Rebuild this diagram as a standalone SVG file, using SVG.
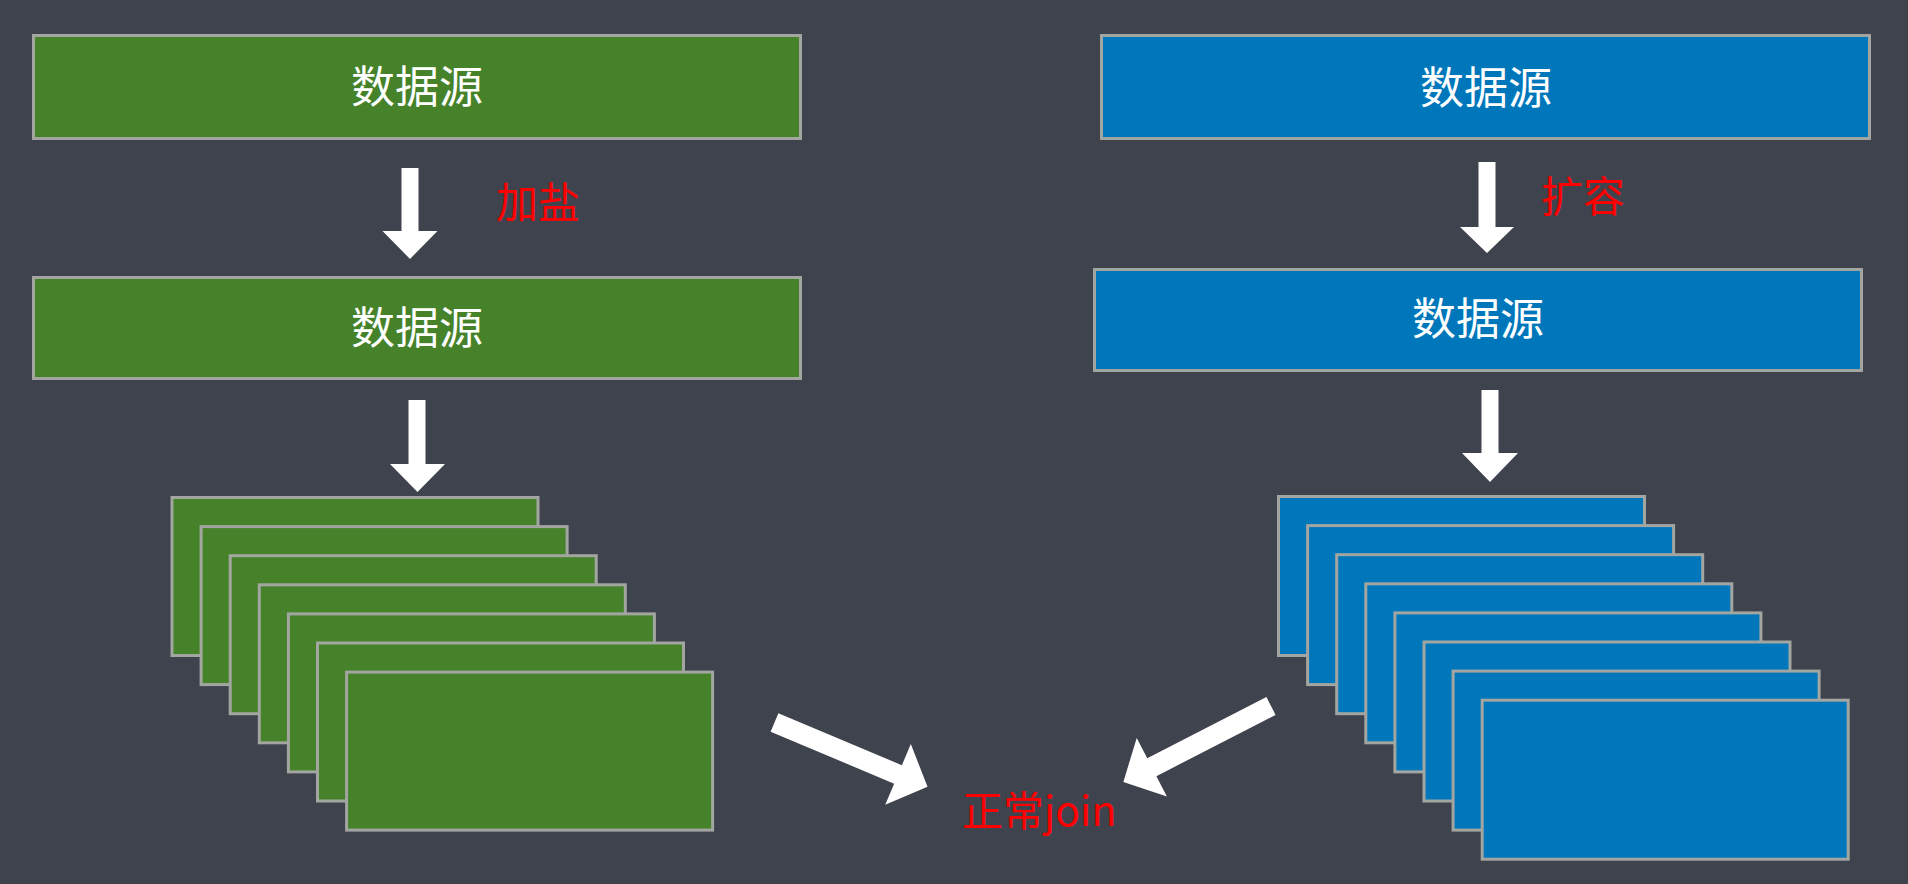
<svg xmlns="http://www.w3.org/2000/svg" width="1908" height="884" viewBox="0 0 1908 884">
<style>
.g{fill:#45822a;stroke:#a3a6a0;stroke-width:3}
.b{fill:#0077bb;stroke:#a3a6a0;stroke-width:3}
.t{fill:#ffffff;font-family:"Noto Sans CJK SC",sans-serif;font-size:44px;text-anchor:middle}
.r{fill:#ff0000;font-family:"Noto Sans CJK SC",sans-serif;font-size:42px}
.a{fill:#ffffff}
</style>
<rect width="1908" height="884" fill="#3f434e"/>
<g id="green-src1"><rect class="g" x="33.5" y="35.5" width="767" height="103"/><text class="t" x="417" y="103">数据源</text></g>
<g id="green-src2"><rect class="g" x="33.5" y="277.5" width="767" height="101"/><text class="t" x="417" y="344">数据源</text></g>
<g id="blue-src1"><rect class="b" x="1101.5" y="35.5" width="768" height="103"/><text class="t" x="1486" y="104">数据源</text></g>
<g id="blue-src2"><rect class="b" x="1094.5" y="269.5" width="767" height="101"/><text class="t" x="1478" y="335">数据源</text></g>
<g id="green-stack">
<rect class="g" x="172" y="497.5" width="366" height="158"/>
<rect class="g" x="201.1" y="526.6" width="366" height="158"/>
<rect class="g" x="230.2" y="555.7" width="366" height="158"/>
<rect class="g" x="259.3" y="584.8" width="366" height="158"/>
<rect class="g" x="288.4" y="613.9" width="366" height="158"/>
<rect class="g" x="317.5" y="643" width="366" height="158"/>
<rect class="g" x="346.6" y="672.1" width="366" height="158"/>
</g>
<g id="blue-stack">
<rect class="b" x="1278.5" y="496.5" width="366" height="159"/>
<rect class="b" x="1307.6" y="525.6" width="366" height="159"/>
<rect class="b" x="1336.7" y="554.7" width="366" height="159"/>
<rect class="b" x="1365.8" y="583.8" width="366" height="159"/>
<rect class="b" x="1394.9" y="612.9" width="366" height="159"/>
<rect class="b" x="1424" y="642" width="366" height="159"/>
<rect class="b" x="1453.1" y="671.1" width="366" height="159"/>
<rect class="b" x="1482.2" y="700.2" width="366" height="159"/>
</g>
<g id="connectors">
<polygon class="a" points="401.5,168 418.5,168 418.5,231 437.5,231 410,259 382.5,231 401.5,231"/>
<polygon class="a" points="408.5,400 425.5,400 425.5,464 445,464 417.5,492 390,464 408.5,464"/>
<polygon class="a" points="1478.5,162 1495.5,162 1495.5,227 1514,227 1487,253 1460,227 1478.5,227"/>
<polygon class="a" points="1481.5,390 1498.5,390 1498.5,453 1518,453 1490,482 1462,453 1481.5,453"/>
<polygon class="a" transform="translate(774.5,722.5) rotate(22.8)" points="0,-10 134,-10 134,-33 166,0 134,33 134,10 0,10"/>
<polygon class="a" transform="translate(1271,706) rotate(152.8)" points="0,-10 134,-10 134,-33 166,0 134,33 134,10 0,10"/>
</g>
<g id="labels">
<text class="r" x="496" y="218">加盐</text>
<text class="r" x="1541" y="212">扩容</text>
<text class="r" x="962" y="826" style="font-size:41px">正常join</text>
</g>
</svg>
